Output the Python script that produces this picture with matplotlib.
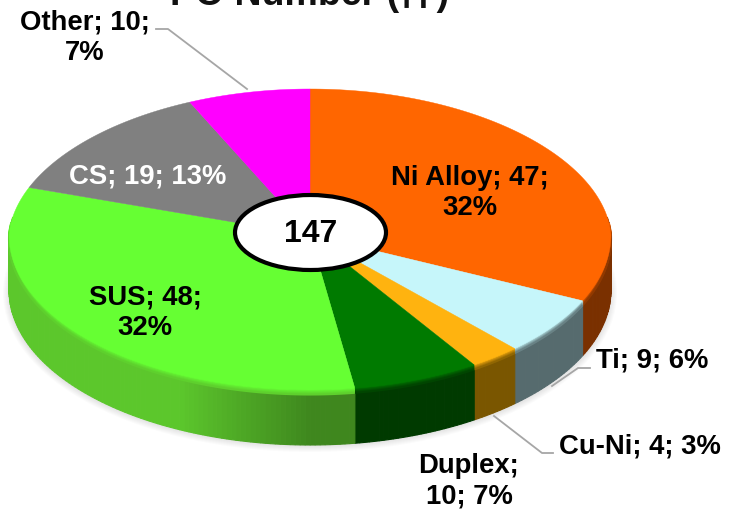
import matplotlib
matplotlib.use('Agg')
import matplotlib.pyplot as plt
from matplotlib.patches import Ellipse, Polygon
import matplotlib.colors as mcolors
import numpy as np

plt.rcParams['font.family'] = ['Liberation Sans', 'Noto Sans CJK JP', 'DejaVu Sans']

categories = ['Ni Alloy', 'Ti', 'Cu-Ni', 'Duplex', 'SUS', 'CS', 'Other']
values = [47, 9, 4, 10, 48, 19, 10]
percents = [32, 6, 3, 7, 32, 13, 7]
colors = ['#FF6600', '#C6F6FA', '#FFB30F', '#007A00', '#66FF33', '#808080', '#FF00FF']
side_colors = ['#7A3000', '#566B6E', '#7A5600', '#003A00', '#5CC72C', '#404040', '#7A007A']
total = 147
title = 'PO Number (\u4ef6)'

# pie geometry in pixels, front half is a bit taller because of the perspective
cx, cy = 310, 235
rx, ry_back, ry_front = 301, 146, 155
depth = 55

fig = plt.figure(figsize=(7.31, 5.20), dpi=100)
ax = fig.add_axes([0, 0, 1, 1])
ax.set_xlim(0, 731)
ax.set_ylim(520, 0)
ax.axis('off')


def rim(a):
    # angle measured clockwise from 12 o'clock
    c = np.cos(a)
    x = cx + rx * np.sin(a) * (1 - 0.04 * np.maximum(c, 0))
    y = cy - np.where(c > 0, ry_back, ry_front) * c
    return x, y


edges = np.radians(np.concatenate([[0], np.cumsum(values)]) / sum(values) * 360)

# soft shadow under the pie
for i in range(8):
    ax.add_patch(Ellipse((cx, cy + depth + 3), 2 * rx + 12 - i * 2, 2 * ry_front + 8 - i * 2,
                         fc='#000000', ec='none', alpha=0.016, zorder=1))

# side wall, thin strips so the shade can change along the rim
for j in range(len(values)):
    a0, a1 = edges[j], edges[j + 1]
    lo, hi = max(a0, np.pi / 2 - 0.12), min(a1, 3 * np.pi / 2 + 0.12)
    if lo >= hi:
        continue
    steps = np.linspace(lo, hi, int((hi - lo) * 60) + 2)
    base = np.array(mcolors.to_rgb(side_colors[j]))
    for k in range(len(steps) - 1):
        t = (steps[k] + steps[k + 1]) / 2
        shade = base
        if categories[j] == 'SUS':
            # darkens towards the front of the pie
            f = np.clip((t - np.pi) / (np.pi / 2), 0, 1)
            shade = base * (0.68 + 0.32 * min(f * 3.5, 1))
        x0, y0 = rim(steps[k])
        x1, y1 = rim(steps[k + 1])
        ax.add_patch(Polygon([(x0, y0), (x1, y1), (x1, y1 + depth), (x0, y0 + depth)],
                             fc=shade, ec=shade, lw=0.8, zorder=2))

# blend from the top colour into the wall colour just under the edge
for j in range(len(values)):
    a = np.linspace(edges[j], edges[j + 1], 120)
    a_f = a[(a > np.pi / 2 - 0.1) & (a < 3 * np.pi / 2 + 0.1)]
    if len(a_f) < 2:
        continue
    xb, yb = rim(a_f)
    top_c = np.array(mcolors.to_rgb(colors[j]))
    side_c = np.array(mcolors.to_rgb(side_colors[j]))
    for i in range(5):
        w = 1 - (i + 1) / 6
        ax.plot(xb, yb + i + 0.5, color=w * top_c + (1 - w) * side_c, lw=1.5, zorder=2.5,
                solid_capstyle='butt')

# top face
for j in range(len(values)):
    a = np.linspace(edges[j], edges[j + 1], 120)
    xs, ys = rim(a)
    pts = np.column_stack([np.r_[cx, xs], np.r_[cy, ys]])
    ax.add_patch(Polygon(pts, fc=colors[j], ec=colors[j], lw=0.3, zorder=3))

# leader lines
leaders = [([156, 168, 247], [29, 29, 89]),
           ([590, 578, 552], [368, 368, 386]),
           ([553, 542, 494], [453, 453, 416])]
for lx, ly in leaders:
    ax.plot(lx, ly, color='#A6A6A6', lw=1.3, zorder=5)

# labels
fs = 19.8
labels = [('Ni Alloy; 47;\n32%', 470, 193, 'black'),
          ('Ti; 9; 6%', 652, 361, 'black'),
          ('Cu-Ni; 4; 3%', 640, 446, 'black'),
          ('Duplex;\n10; 7%', 469, 481, 'black'),
          ('SUS; 48;\n32%', 145, 313, 'black'),
          ('CS; 19; 13%', 148, 177, 'white'),
          ('Other; 10;\n7%', 85, 38, 'black')]
for s, x, y, c in labels:
    ax.text(x, y, s, ha='center', va='center', fontsize=fs, fontweight='bold', color=c,
            linespacing=1.22, zorder=6)

# title sits partly above the top edge
ax.text(310, 5, title, ha='center', va='baseline', fontsize=27, fontweight='bold',
        color='#111111', zorder=6)

# centre total
ax.add_patch(Ellipse((310.5, 232.5), 151, 75, fc='white', ec='black', lw=3, zorder=7))
ax.text(310.5, 234, str(total), ha='center', va='center', fontsize=23, fontweight='bold', zorder=8)

fig.savefig('out.png', dpi=100)
